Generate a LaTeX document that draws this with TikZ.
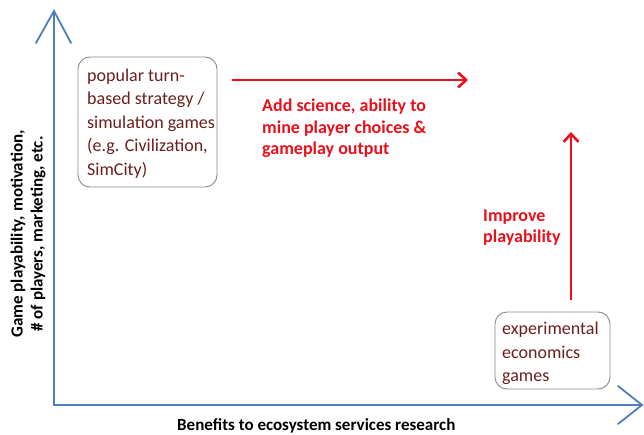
\documentclass[tikz,border=0pt]{standalone}
\usepackage{fontspec}
\setmainfont{Carlito}
\usetikzlibrary{arrows.meta}
\definecolor{axisblue}{HTML}{4F7FBA}
\definecolor{arrred}{HTML}{E8101A}
\definecolor{boxtext}{HTML}{6B1E1E}
\definecolor{boxline}{HTML}{8A8A8A}
\tikzset{
  axis/.style={draw=axisblue, line width=1.8pt, line cap=round},
  gamebox/.style={draw=boxline, line width=0.9pt, rounded corners=12pt, fill=white},
  boxlabel/.style={text=boxtext, font=\fontsize{18}{23.5}\selectfont, align=left, inner sep=0pt},
  redlabel/.style={text=arrred, font=\fontsize{18}{21.5}\selectfont\bfseries, align=left, inner sep=0pt},
  axlabel/.style={text=black, font=\fontsize{17}{20}\selectfont\bfseries, inner sep=0pt},
  redarrow/.style={draw=arrred, line width=2.8pt, -{Straight Barb[length=8pt,width=15pt,line width=2.6pt]}},
}
\begin{document}
\begin{tikzpicture}[x=1pt,y=1pt]
\useasboundingbox (0,0) rectangle (644,-435);
% axes
\coordinate (origin) at (54,-405);
\coordinate (ytip) at (54,-11);
\coordinate (xtip) at (642,-405);
\draw[axis] (origin) -- (ytip);
\draw[axis] (origin) -- (xtip);
\draw[axis] (36,-43) -- (ytip) -- (71,-43);
\draw[axis] (618,-386) -- (xtip) -- (618,-424);
% boxes
\draw[gamebox] (78,-57) rectangle (217,-187);
\node[boxlabel, anchor=west] (popular) at (87,-123.5) {popular turn-\\based strategy /\\simulation games\\(e.g. Civilization,\\SimCity)};
\draw[gamebox] (495,-312) rectangle (610,-389);
\node[boxlabel, anchor=west] (exper) at (502,-353.5) {experimental\\economics\\games};
% red arrows
\coordinate (hs) at (232,-80);
\coordinate (he) at (468,-80);
\draw[redarrow] (hs) -- (he);
\coordinate (vs) at (571,-300);
\coordinate (ve) at (571,-132);
\draw[redarrow] (vs) -- (ve);
\node[redlabel, anchor=west] (addsci) at (262,-128.5) {Add science, ability to\\mine player choices \&\\gameplay output};
\node[redlabel, anchor=west] (improve) at (483,-227.5) {Improve\\playability};
% axis labels
\node[axlabel, anchor=base west] (xlab) at (177,-430) {Benefits to ecosystem services research};
\node[axlabel, rotate=90, align=center] (ylab) at (28,-234) {Game playability, motivation,\\\# of players, marketing, etc.};
\end{tikzpicture}
\end{document}
